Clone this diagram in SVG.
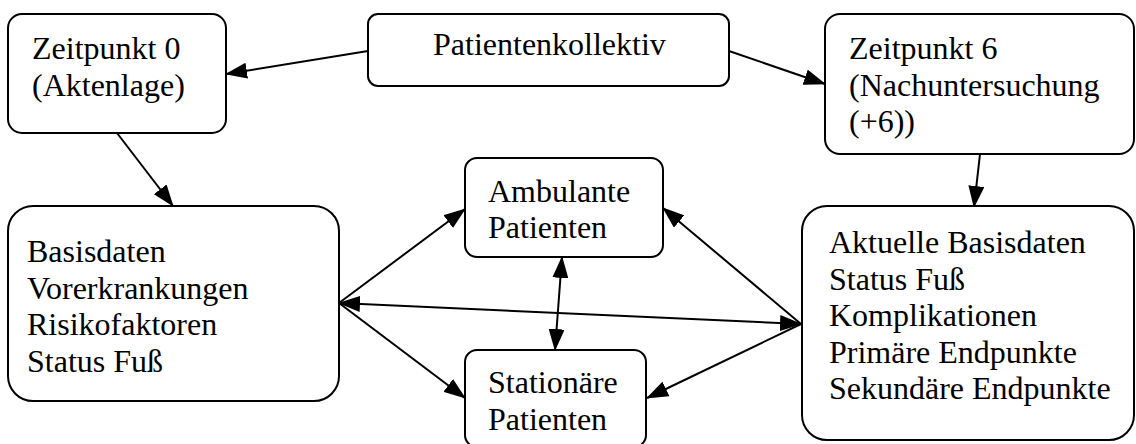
<svg xmlns="http://www.w3.org/2000/svg" width="1136" height="444" viewBox="0 0 1136 444">
<style>
.box{fill:#fff;stroke:#000;stroke-width:2}
.t{font-family:'Liberation Serif','DejaVu Serif',serif;font-size:32px;fill:#000}
.c{fill:none;stroke:#000;stroke-width:2}
</style>
<defs>
<marker id="ah" viewBox="0 0 22 16" markerWidth="22" markerHeight="16" refX="21" refY="8" orient="auto-start-reverse" markerUnits="userSpaceOnUse">
<path d="M0,0 L22,8 L0,16 Z" fill="#000"/>
</marker>
</defs>
<rect width="1136" height="444" fill="#fff"/>
<g id="connectors">
<line class="c" x1="368" y1="51" x2="226" y2="74" marker-end="url(#ah)"/>
<line class="c" x1="729" y1="51" x2="825" y2="84" marker-end="url(#ah)"/>
<line class="c" x1="117" y1="133" x2="173" y2="206" marker-end="url(#ah)"/>
<line class="c" x1="980" y1="154" x2="974" y2="207" marker-end="url(#ah)"/>
<line class="c" x1="339" y1="303" x2="465" y2="209" marker-end="url(#ah)"/>
<line class="c" x1="339" y1="303" x2="465" y2="398" marker-end="url(#ah)"/>
<line class="c" x1="339" y1="303" x2="801" y2="324" marker-start="url(#ah)" marker-end="url(#ah)"/>
<line class="c" x1="562" y1="257" x2="555" y2="350" marker-start="url(#ah)" marker-end="url(#ah)"/>
<line class="c" x1="801" y1="324" x2="663" y2="208" marker-end="url(#ah)"/>
<line class="c" x1="801" y1="324" x2="647" y2="398" marker-end="url(#ah)"/>
</g>
<g font-family="Liberation Serif, DejaVu Serif, serif" font-size="32">
<g id="patientenkollektiv">
<rect class="box" x="368" y="14" width="361" height="72" rx="10"/>
<text class="t" x="433" y="55">Patientenkollektiv</text>
</g>
<g id="zeitpunkt0">
<rect class="box" x="8" y="14" width="218" height="119" rx="14"/>
<text class="t" x="32" y="59">Zeitpunkt 0</text>
<text class="t" x="32" y="95.5">(Aktenlage)</text>
</g>
<g id="zeitpunkt6">
<rect class="box" x="825" y="14" width="309" height="140" rx="15"/>
<text class="t" x="849" y="59">Zeitpunkt 6</text>
<text class="t" x="849" y="95.5">(Nachuntersuchung</text>
<text class="t" x="849" y="132">(+6))</text>
</g>
<g id="basisdaten">
<rect class="box" x="8" y="206" width="331" height="195" rx="25"/>
<text class="t" x="27" y="262">Basisdaten</text>
<text class="t" x="27" y="298.5">Vorerkrankungen</text>
<text class="t" x="27" y="335">Risikofaktoren</text>
<text class="t" x="27" y="371.5">Status Fuß</text>
</g>
<g id="ambulante">
<rect class="box" x="465" y="158" width="198" height="99" rx="12"/>
<text class="t" x="488" y="202">Ambulante</text>
<text class="t" x="488" y="238">Patienten</text>
</g>
<g id="stationaere">
<rect class="box" x="465" y="350" width="181" height="97" rx="12"/>
<text class="t" x="488" y="393">Stationäre</text>
<text class="t" x="488" y="429.5">Patienten</text>
</g>
<g id="aktuelle">
<rect class="box" x="802" y="206" width="332" height="234" rx="25"/>
<text class="t" x="829" y="253">Aktuelle Basisdaten</text>
<text class="t" x="829" y="289.5">Status Fuß</text>
<text class="t" x="829" y="326">Komplikationen</text>
<text class="t" x="829" y="362.5">Primäre Endpunkte</text>
<text class="t" x="829" y="399">Sekundäre Endpunkte</text>
</g>
</g>
</svg>
